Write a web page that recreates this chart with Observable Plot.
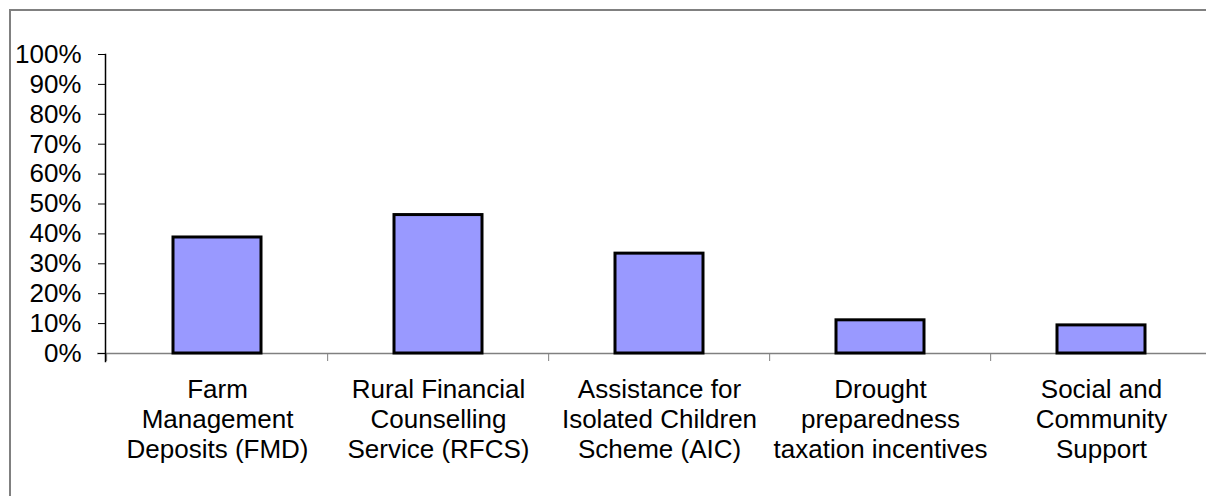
<!DOCTYPE html>
<html><head><meta charset="utf-8">
<script src="https://cdn.jsdelivr.net/npm/d3@7"></script>
<script src="https://cdn.jsdelivr.net/npm/@observablehq/plot@0.6"></script>
<style>
html,body{margin:0;padding:0;background:#fff;overflow:hidden;width:1206px;height:496px;}
#chart{position:absolute;left:0;top:0;}
#border{position:absolute;left:9px;top:9px;width:1400px;height:800px;border-left:2px solid #808080;border-top:2px solid #808080;pointer-events:none;}
</style></head><body>
<div id="chart"></div><div id="border"></div>
<script>
const categories = [
  "Farm Management Deposits (FMD)",
  "Rural Financial Counselling Service (RFCS)",
  "Assistance for Isolated Children Scheme (AIC)",
  "Drought preparedness taxation incentives",
  "Social and Community Support"
];
const categoryLabels = [
  "Farm\nManagement\nDeposits (FMD)",
  "Rural Financial\nCounselling\nService (RFCS)",
  "Assistance for\nIsolated Children\nScheme (AIC)",
  "Drought\npreparedness\ntaxation incentives",
  "Social and\nCommunity\nSupport"
];
const values = [0.388, 0.463, 0.334, 0.111, 0.094];
const yTicks = [0, 0.1, 0.2, 0.3, 0.4, 0.5, 0.6, 0.7, 0.8, 0.9, 1.0];

const data = categories.map((c, i) => ({category: c, value: values[i]}));
const left = 105, right = 1213.5;
const step = (right - left) / categories.length;

const plot = Plot.plot({
  width: 1206, height: 496,
  marginTop: 54, marginBottom: 143, marginLeft: 105, marginRight: 0,
  style: {fontFamily: "'Liberation Sans', Arial, sans-serif", fontSize: "26px", color: "black", background: "transparent"},
  x: {type: "band", domain: categories, range: [left, right], paddingInner: 0.6, paddingOuter: 0.3, axis: null},
  y: {domain: [0, 1], axis: null},
  marks: [
    Plot.ruleY([0], {stroke: "#808080", strokeWidth: 1.5, insetLeft: -8}),
    Plot.barY(data, {x: "category", y: "value", fill: "#9999ff", stroke: "black", strokeWidth: 3}),
    Plot.axisY({ticks: yTicks, tickFormat: d3.format(".0%"), tickSize: 7, tickPadding: 17, stroke: "black", fill: "black", label: null, fontSize: 26}),
    Plot.axisX({tickSize: 8, tickFormat: () => "", dx: -step / 2, stroke: "#808080", label: null}),
    Plot.frame({anchor: "left", stroke: "black", strokeWidth: 1.5, insetBottom: -8}),
    Plot.axisX({tickSize: 0, tickPadding: 23, tickFormat: d => categoryLabels[categories.indexOf(d)], lineHeight: 30 / 26, fill: "black", fontSize: 26, label: null})
  ]
});
document.getElementById("chart").appendChild(plot);
</script>
</body></html>
